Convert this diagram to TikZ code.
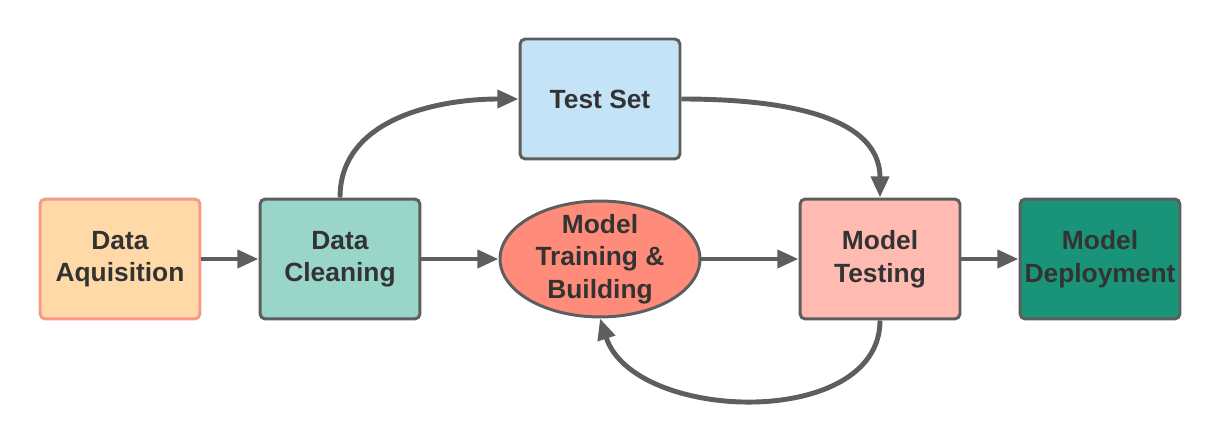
\documentclass[tikz,border=0pt]{standalone}
\usepackage{fontspec}
\setmainfont{Liberation Sans}
\usetikzlibrary{arrows.meta,shapes.geometric}
\definecolor{edgegray}{HTML}{5E5E5E}
\definecolor{txtgray}{HTML}{333333}
\definecolor{acqfill}{HTML}{FFDAA8}
\definecolor{acqedge}{HTML}{F79A88}
\definecolor{cleanfill}{HTML}{9AD5CA}
\definecolor{testsetfill}{HTML}{C5E3F6}
\definecolor{trainfill}{HTML}{FF8C7A}
\definecolor{testfill}{HTML}{FFBAB1}
\definecolor{deployfill}{HTML}{1A9479}
\begin{document}
\begin{tikzpicture}[x=0.02cm,y=-0.02cm,
  stage/.style={draw=edgegray,line width=1.7pt,rounded corners=3pt,
    minimum width=3.2cm,minimum height=2.4cm,inner sep=0pt,align=center,
    text=txtgray,font=\fontsize{15}{18.5}\selectfont\bfseries},
  oval/.style={stage,ellipse,rounded corners=0pt,minimum width=4cm,minimum height=2.3cm,inner ysep=-2.2pt},
  flow/.style={draw=edgegray,line width=2.8pt,-{Triangle[length=12pt,width=10pt]}}]
\useasboundingbox (0,0) rectangle (1220,445);
\node [stage,fill=acqfill,draw=acqedge] (acq) at (120,259) {Data\\Aquisition};
\node [stage,fill=cleanfill] (clean) at (340,259) {Data\\Cleaning};
\node [stage,fill=testsetfill] (testset) at (600,99) {Test Set};
\node [oval,fill=trainfill] (train) at (600,259) {Model\\Training \&\\Building};
\node [stage,fill=testfill] (test) at (880,259) {Model\\Testing};
\node [stage,fill=deployfill] (deploy) at (1100,259) {Model\\Deployment};
\draw [flow] (acq) -- (clean);
\draw [flow] (clean) -- (train);
\draw [flow] (train) -- (test);
\draw [flow] (test) -- (deploy);
\draw [flow] (clean.north) to[out=90,in=180] (testset.west);
\draw [flow] (testset.east) to[out=0,in=90] (test.north);
\draw [flow] (test.south) to[out=-90,in=-72] (train.south);
\end{tikzpicture}
\end{document}
